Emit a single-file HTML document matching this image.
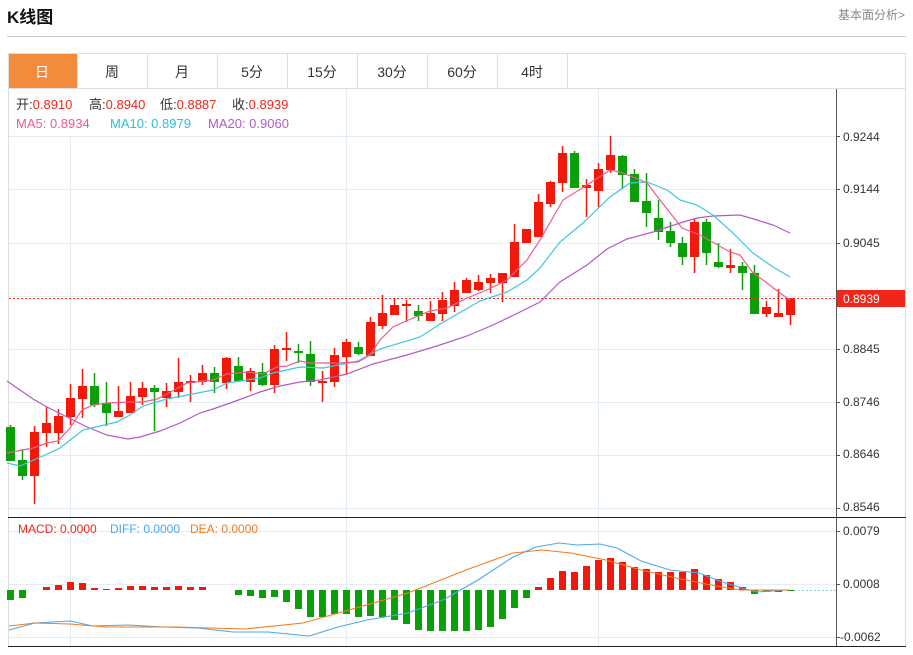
<!DOCTYPE html>
<html><head><meta charset="utf-8"><style>
html,body{margin:0;padding:0;background:#fff;width:913px;height:655px;overflow:hidden}
svg{display:block;font-family:"Liberation Sans","Noto Sans CJK SC",sans-serif}
</style></head><body>
<svg width="913" height="655" viewBox="0 0 913 655" xmlns="http://www.w3.org/2000/svg">
<text x="7" y="23" font-size="17" font-weight="bold" fill="#111">K线图</text>
<text x="905" y="19" font-size="12" fill="#888" text-anchor="end">基本面分析&gt;</text>
<line x1="7" y1="36.5" x2="906" y2="36.5" stroke="#ccc"/>
<rect x="8" y="53" width="69" height="35" fill="#f38b3c"/>
<g stroke="#ddd" fill="none">
<line x1="8" y1="53.5" x2="906" y2="53.5"/>
<line x1="8" y1="88.5" x2="906" y2="88.5"/>
<line x1="147.5" y1="53" x2="147.5" y2="88"/><line x1="77.5" y1="53" x2="77.5" y2="88"/>
<line x1="217.5" y1="53" x2="217.5" y2="88"/><line x1="287.5" y1="53" x2="287.5" y2="88"/>
<line x1="357.5" y1="53" x2="357.5" y2="88"/><line x1="427.5" y1="53" x2="427.5" y2="88"/>
<line x1="497.5" y1="53" x2="497.5" y2="88"/><line x1="567.5" y1="53" x2="567.5" y2="88"/>
<line x1="8.5" y1="53" x2="8.5" y2="647"/><line x1="905.5" y1="53" x2="905.5" y2="647"/>
</g>
<g font-size="14" text-anchor="middle" fill="#333">
<text x="42" y="77" fill="#fff">日</text><text x="112" y="77">周</text><text x="182" y="77">月</text>
<text x="252" y="77">5分</text><text x="322" y="77">15分</text><text x="392" y="77">30分</text>
<text x="462" y="77">60分</text><text x="532" y="77">4时</text>
</g>
<g stroke="#e3edf3">
<line x1="70.5" y1="89" x2="70.5" y2="646"/><line x1="346.5" y1="89" x2="346.5" y2="646"/><line x1="598.5" y1="89" x2="598.5" y2="646"/>
<line x1="9" y1="136.5" x2="836" y2="136.5"/><line x1="9" y1="189.5" x2="836" y2="189.5"/>
<line x1="9" y1="243.5" x2="836" y2="243.5"/><line x1="9" y1="296.5" x2="836" y2="296.5"/>
<line x1="9" y1="349.5" x2="836" y2="349.5"/><line x1="9" y1="402.5" x2="836" y2="402.5"/>
<line x1="9" y1="455.5" x2="836" y2="455.5"/><line x1="9" y1="508.5" x2="836" y2="508.5"/>
<line x1="9" y1="531.5" x2="836" y2="531.5"/><line x1="9" y1="584.5" x2="836" y2="584.5"/>
<line x1="9" y1="637.5" x2="836" y2="637.5"/>
</g>
<rect x="9" y="89" width="337" height="46" fill="#fff"/>
<g font-size="13">
<text x="16" y="109" fill="#333">开:<tspan fill="#f0261a">0.8910</tspan></text>
<text x="89" y="109" fill="#333">高:<tspan fill="#f0261a">0.8940</tspan></text>
<text x="160" y="109" fill="#333">低:<tspan fill="#f0261a">0.8887</tspan></text>
<text x="232" y="109" fill="#333">收:<tspan fill="#f0261a">0.8939</tspan></text>
<text x="16" y="128" fill="#ef5b8c">MA5: 0.8934</text>
<text x="110" y="128" fill="#2fbfd8">MA10: 0.8979</text>
<text x="208" y="128" fill="#b25ac6">MA20: 0.9060</text>
</g>
<line x1="836.5" y1="89" x2="836.5" y2="647" stroke="#555"/>
<line x1="8" y1="517.5" x2="906" y2="517.5" stroke="#222"/>
<line x1="8" y1="646.5" x2="906" y2="646.5" stroke="#222"/>
<g font-size="12" fill="#333">
<text x="843" y="141">0.9244</text><text x="843" y="193">0.9144</text><text x="843" y="247">0.9045</text>
<text x="843" y="353">0.8845</text><text x="843" y="406">0.8746</text><text x="843" y="458">0.8646</text><text x="843" y="511">0.8546</text>
<text x="843" y="535">0.0079</text><text x="843" y="588">0.0008</text><text x="840" y="641">-0.0062</text>
</g>
<g stroke="#555"><line x1="836" y1="136.5" x2="840" y2="136.5"/><line x1="836" y1="189.5" x2="840" y2="189.5"/><line x1="836" y1="243.5" x2="840" y2="243.5"/><line x1="836" y1="349.5" x2="840" y2="349.5"/><line x1="836" y1="402.5" x2="840" y2="402.5"/><line x1="836" y1="455.5" x2="840" y2="455.5"/><line x1="836" y1="508.5" x2="840" y2="508.5"/><line x1="836" y1="531.5" x2="840" y2="531.5"/><line x1="836" y1="584.5" x2="840" y2="584.5"/><line x1="836" y1="637.5" x2="840" y2="637.5"/></g>

<!-- green candles -->
<path fill="none" stroke="#0aa00a" stroke-width="1.5" d="M10.5 425V461M22.5 449V480M94.5 373V407M106.5 382V426M154.5 385V431M214.5 367V393M238.5 357V382M262.5 363V386M298.5 344V363M310.5 341V386M358.5 342V355M418.5 305V321M574.5 151V188M622.5 155V189M634.5 169V202M646.5 173V227M658.5 200V240M670.5 222V247M682.5 237V265M706.5 219V265M718.5 243V268M742.5 262V290M754.5 265V314"/>
<path fill="#0aa00a" d="M6 427h9v34h-9zM18 460h9v16h-9zM90 386h9v19h-9zM102 403h9v10h-9zM150 388h9v4h-9zM210 373h9v9h-9zM234 366h9v15h-9zM258 372h9v13h-9zM294 351h9v2h-9zM306 354h9v28h-9zM354 347h9v7h-9zM414 311h9v5h-9zM570 153h9v35h-9zM618 156h9v19h-9zM630 174h9v28h-9zM642 201h9v12h-9zM654 218h9v14h-9zM666 231h9v12h-9zM678 243h9v14h-9zM702 222h9v31h-9zM714 262h9v5h-9zM738 266h9v7h-9zM750 273h9v41h-9z"/>
<!-- red candles -->
<path fill="none" stroke="#f2190b" stroke-width="1.5" d="M34.5 426V504M46.5 407V447M58.5 409V444M70.5 384V425M82.5 369V418M118.5 386V417M130.5 382V413M142.5 382V405M166.5 383V407M178.5 358V398M190.5 375V402M202.5 365V385M226.5 357V389M250.5 368V391M274.5 345V393M286.5 332V361M322.5 371V402M334.5 348V387M346.5 339V374M370.5 317V356M382.5 295V329M394.5 298V315M406.5 300V322M430.5 301V321M442.5 292V321M454.5 282V312M466.5 278V293M478.5 275V291M490.5 274V293M502.5 273V302M514.5 224V277M526.5 229V243M538.5 194V237M550.5 181V207M562.5 146V192M586.5 179V217M598.5 163V207M610.5 136V173M694.5 218V273M730.5 249V273M766.5 301V317M778.5 289V317M790.5 298V325"/>
<path fill="#f2190b" d="M30 432h9v44h-9zM42 423h9v10h-9zM54 416h9v17h-9zM66 398h9v19h-9zM78 386h9v13h-9zM114 411h9v6h-9zM126 396h9v17h-9zM138 388h9v9h-9zM162 391h9v7h-9zM174 382h9v10h-9zM186 381h9v2h-9zM198 373h9v9h-9zM222 358h9v25h-9zM246 371h9v11h-9zM270 349h9v36h-9zM282 348h9v2h-9zM318 381h9v2h-9zM330 355h9v27h-9zM342 342h9v15h-9zM366 322h9v34h-9zM378 313h9v13h-9zM390 305h9v10h-9zM402 304h9v2h-9zM426 313h9v8h-9zM438 300h9v14h-9zM450 290h9v16h-9zM462 280h9v13h-9zM474 282h9v8h-9zM486 278h9v5h-9zM498 273h9v10h-9zM510 242h9v35h-9zM522 229h9v14h-9zM534 202h9v35h-9zM546 182h9v22h-9zM558 153h9v30h-9zM582 185h9v3h-9zM594 169h9v22h-9zM606 155h9v15h-9zM690 222h9v35h-9zM726 265h9v3h-9zM762 307h9v7h-9zM774 313h9v4h-9zM786 298h9v17h-9z"/>

<line x1="9" y1="298.5" x2="836" y2="298.5" stroke="#f0261a" stroke-dasharray="2,2"/>
<rect x="837" y="290" width="68" height="17" fill="#f0261a"/>
<text x="843" y="303" font-size="12" fill="#fff">0.8939</text>
<g fill="none" stroke-width="1.2">
<polyline stroke="#b25ac6" points="7,381 20,390 33,399 47,407 67,417 87,427 107,435 128,439 140,437 160,431 180,423 200,413 213,409 233,402 260,392 280,386 300,382 320,380 347,374 373,364 407,355 440,345 467,336 493,325 520,312 540,302 560,282 587,265 607,249 627,239 653,232 680,223 697,218 713,216 740,215 757,220 773,225 790,233"/>
<polyline stroke="#3ec6dd" points="7,463 20,466 43,456 60,448 83,430 117,422 130,415 143,406 167,399 213,390 227,383 260,378 273,373 300,367 323,368 358,361 380,349 420,337 440,324 480,301 507,292 527,280 540,268 560,242 583,223 610,197 630,183 647,182 667,190 680,200 697,205 713,215 733,233 753,253 773,267 790,277"/>
<polyline stroke="#ef5b8c" points="7,453 33,448 47,443 58,441 70,428 82,410 93,405 107,403 130,402 143,402 157,399 167,394 187,383 213,380 227,374 247,372 263,374 277,367 287,366 300,361 310,363 337,363 358,362 370,355 380,340 393,327 413,318 430,311 447,308 467,298 487,290 507,280 527,260 540,240 563,200 587,185 610,170 620,172 633,177 647,183 660,200 682,228 700,235 730,252 740,255 753,273 767,283 780,293 790,300"/>
</g>
<line x1="790" y1="590.5" x2="836" y2="590.5" stroke="#8fd0ee" stroke-dasharray="2,2"/>
<path fill="#f2190b" d="M43 587h7v3h-7zM55 585h7v5h-7zM67 582h7v8h-7zM79 583h7v7h-7zM91 588h7v2h-7zM103 589h7v1h-7zM115 588h7v2h-7zM127 586h7v4h-7zM139 586h7v4h-7zM151 587h7v3h-7zM163 587h7v3h-7zM175 586h7v4h-7zM187 587h7v3h-7zM199 587h7v3h-7zM535 587h7v3h-7zM547 578h7v12h-7zM559 571h7v19h-7zM571 572h7v18h-7zM583 566h7v24h-7zM595 560h7v30h-7zM607 558h7v32h-7zM619 562h7v28h-7zM631 567h7v23h-7zM643 569h7v21h-7zM655 572h7v18h-7zM667 572h7v18h-7zM679 572h7v18h-7zM691 569h7v21h-7zM703 575h7v15h-7zM715 579h7v11h-7zM727 582h7v8h-7zM739 587h7v3h-7z"/>
<path fill="#0aa00a" d="M7 590h7v10h-7zM19 590h7v8h-7zM235 590h7v5h-7zM247 590h7v6h-7zM259 590h7v8h-7zM271 590h7v7h-7zM283 590h7v12h-7zM295 590h7v19h-7zM307 590h7v27h-7zM319 590h7v27h-7zM331 590h7v24h-7zM343 590h7v24h-7zM355 590h7v27h-7zM367 590h7v26h-7zM379 590h7v27h-7zM391 590h7v30h-7zM403 590h7v34h-7zM415 590h7v40h-7zM427 590h7v41h-7zM439 590h7v41h-7zM451 590h7v41h-7zM463 590h7v41h-7zM475 590h7v40h-7zM487 590h7v37h-7zM499 590h7v29h-7zM511 590h7v18h-7zM523 590h7v8h-7zM751 590h7v4h-7zM763 590h7v2h-7zM775 590h7v2h-7zM787 590h7v1h-7z"/>
<g fill="none" stroke-width="1.1">
<polyline stroke="#4aa8ef" points="9,630 35,623 70,621 93,626 128,625 163,627 198,628 233,632 268,632 309,636 338,627 367,620 408,613 443,600 478,580 513,557 536,547 559,543 577,545 600,544 617,548 641,561 670,570 699,573 722,582 746,589 757,592 786,590"/>
<polyline stroke="#f47b20" points="9,626 35,623 70,624 105,627 175,627 245,629 303,623 349,610 408,593 466,570 513,553 542,550 571,553 606,560 641,570 676,578 711,585 740,590 790,590"/>
</g>
<g font-size="12"><text x="18" y="533" fill="#f0261a">MACD: 0.0000</text><text x="110" y="533" fill="#4aa8ef">DIFF: 0.0000</text><text x="190" y="533" fill="#f47b20">DEA: 0.0000</text></g>
</svg>
</body></html>
